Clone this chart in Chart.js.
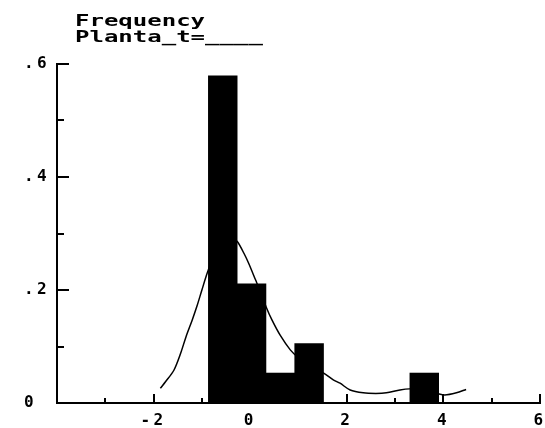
<!DOCTYPE html>
<html>
<head>
<meta charset="utf-8">
<script src="https://cdn.jsdelivr.net/npm/chart.js@4.4.0/dist/chart.umd.min.js"></script>
<style>
html,body{margin:0;padding:0;background:#fff;}
#wrap{width:545px;height:428px;position:relative;}
</style>
</head>
<body>
<div id="wrap"><canvas id="c"></canvas></div>
<script>
// histogram + kernel density, old-style screen graph
const TITLE_LINES = ['Frequency', 'Planta_t=____'];

const BIN_CENTERS = [-0.568, 0.028, 0.624, 1.220, 1.816, 2.412, 3.008, 3.604];
const BIN_FREQ    = [0.579, 0.211, 0.053, 0.105, 0, 0, 0, 0.053];

const KD_X = [-1.86,-1.75,-1.58,-1.44,-1.33,-1.20,-1.10,-1.00,-0.89,-0.75,-0.60,-0.45,-0.35,-0.26,-0.13,-0.03,
              0.11,0.22,0.33,0.45,0.62,0.83,1.00,1.20,1.40,1.52,1.72,1.86,2.07,2.34,2.60,2.82,3.10,3.30,3.50,3.70,3.86,4.03,4.27,4.47];
const KD_Y = [0.026,0.038,0.058,0.088,0.117,0.147,0.172,0.200,0.230,0.262,0.283,0.292,0.291,0.285,0.265,0.247,
              0.218,0.195,0.170,0.147,0.120,0.094,0.080,0.068,0.058,0.053,0.041,0.035,0.023,0.018,0.017,0.018,0.023,0.025,0.024,0.020,0.017,0.014,0.018,0.024];

const Y_MAJOR = [0.2, 0.4, 0.6];
const Y_MINOR = [0.1, 0.3, 0.5];
const X_MAJOR = [-2, 0, 2, 4, 6];
const X_MINOR = [-3, -1, 1, 3, 5];

const FONT = "'DejaVu Sans Mono', monospace";
const SPACING = '3.4px';

const $ = (s,r=document)=>r.querySelector(s);

// wide letter spacing + inward ticks + title
const retroPlugin = {
  id: 'retro',
  beforeUpdate(ch){ ch.ctx.letterSpacing = SPACING; },
  beforeDraw(ch){ ch.ctx.letterSpacing = SPACING; },
  afterDraw(ch){
    const {ctx, chartArea:a, scales:{x,y}} = ch;
    ctx.save();
    ctx.strokeStyle = '#000';
    ctx.lineWidth = 2;
    ctx.beginPath();
    Y_MAJOR.forEach(v=>{ const p=Math.round(y.getPixelForValue(v)); ctx.moveTo(a.left,p); ctx.lineTo(a.left+12,p); });
    Y_MINOR.forEach(v=>{ const p=Math.round(y.getPixelForValue(v)); ctx.moveTo(a.left,p); ctx.lineTo(a.left+7,p); });
    X_MAJOR.forEach(v=>{ const p=Math.round(x.getPixelForValue(v)); ctx.moveTo(p,a.bottom); ctx.lineTo(p,a.bottom-9); });
    X_MINOR.forEach(v=>{ const p=Math.round(x.getPixelForValue(v)); ctx.moveTo(p,a.bottom); ctx.lineTo(p,a.bottom-5); });
    ctx.stroke();

    // title, stretched wide like the old screen font
    ctx.fillStyle = '#000';
    ctx.font = `bold 16px ${FONT}`;
    ctx.letterSpacing = '0px';
    ctx.textAlign = 'left';
    ctx.textBaseline = 'alphabetic';
    ctx.scale(1.5, 1);
    TITLE_LINES.forEach((t,i)=>ctx.fillText(t, (a.left+18)/1.5, 26+i*16));
    ctx.restore();
  }
};

const fmtY = v => v===0 ? '0' : (+v).toFixed(1).replace(/^0/,'');

new Chart($('#c').getContext('2d'), {
  type: 'bar',
  data: {
    datasets: [
      {
        type: 'bar',
        data: BIN_CENTERS.map((c,i)=>({x:c, y:BIN_FREQ[i]})),
        backgroundColor: '#000',
        borderWidth: 0,
        barPercentage: 1,
        categoryPercentage: 1,
        order: 0
      },
      {
        type: 'line',
        data: KD_X.map((v,i)=>({x:v, y:KD_Y[i]})),
        borderColor: '#000',
        borderWidth: 1.5,
        pointRadius: 0,
        tension: 0.3,
        fill: false,
        order: 1
      }
    ]
  },
  options: {
    responsive: true,
    maintainAspectRatio: false,
    animation: false,
    layout: { padding: { left: 24, top: 64, right: 0, bottom: 0 } },
    plugins: { legend: { display: false }, tooltip: { enabled: false }, title: { display: false } },
    scales: {
      x: {
        type: 'linear',
        min: -4, max: 6,
        offset: false,
        grid: { display: false },
        border: { display: true, color: '#000', width: 2 },
        ticks: {
          stepSize: 2, autoSkip: false, maxRotation: 0, padding: 0,
          color: '#000', font: { family: FONT, size: 16, weight: 'bold' },
          callback: v => v===-4 ? '' : String(v)
        },
        afterFit: s => { s.height = 25; s.paddingRight = 5; }
      },
      y: {
        min: 0, max: 0.6,
        grid: { display: false },
        border: { display: true, color: '#000', width: 2 },
        ticks: {
          stepSize: 0.2, crossAlign: 'far', padding: 8,
          color: '#000', font: { family: FONT, size: 16, weight: 'bold' },
          callback: v => fmtY(v)
        },
        afterFit: s => { s.width = 33; }
      }
    }
  },
  plugins: [retroPlugin]
});
</script>
</body>
</html>
